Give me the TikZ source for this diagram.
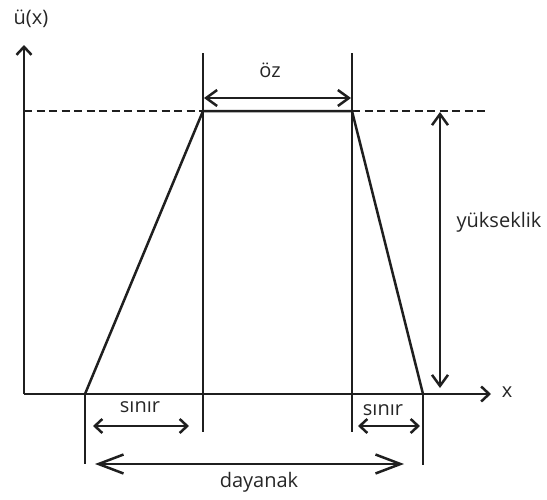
\documentclass[tikz,border=0pt]{standalone}
\usepackage{fontspec}
\setmainfont{Open Sans}
\usetikzlibrary{arrows.meta}
\begin{document}
\begin{tikzpicture}[x=1pt,y=-1pt,
  ln/.style={line width=2.5pt,draw=black!88},
  axtip/.tip={Straight Barb[length=8pt,width=15pt,line width=2.5pt]},
  mytip/.tip={Straight Barb[length=11pt,width=16pt,line width=2.5pt]},
  smtip/.tip={Straight Barb[length=7.5pt,width=14pt,line width=2.5pt]},
  bigtip/.tip={Straight Barb[length=25pt,width=19pt,line width=2.5pt]},
  lbl/.style={font=\fontsize{20}{24}\selectfont,text=black!85,inner sep=1pt}]
\useasboundingbox (0,0) rectangle (547,499);
% coordinates
\coordinate (O) at (24,394);
\coordinate (ytop) at (24,45);
\coordinate (xend) at (491,394);
\coordinate (dl) at (24,111);
\coordinate (dr) at (487,111);
\coordinate (BL) at (85,394);
\coordinate (TL) at (203,111);
\coordinate (TR) at (352,111);
\coordinate (BR) at (423,394);
\coordinate (vLt) at (203,53);
\coordinate (vLb) at (203,432);
\coordinate (vRt) at (352,53);
\coordinate (vRb) at (352,432);
\coordinate (bLb) at (85,464);
\coordinate (bRb) at (423,465);
\coordinate (ozL) at (204,98);
\coordinate (ozR) at (351,98);
\coordinate (s1L) at (93,426);
\coordinate (s1R) at (189,426);
\coordinate (s2L) at (358,426);
\coordinate (s2R) at (420,426);
\coordinate (dyL) at (95,464);
\coordinate (dyR) at (404,464);
\coordinate (ykT) at (440,112);
\coordinate (ykB) at (440,388);
% axes
\draw[ln,-{axtip}] (O) -- (ytop);
\draw[ln,-{axtip}] (O) -- (xend);
% dashed level
\draw[ln,dash pattern=on 8pt off 4.5pt] (dl) -- (TL);
\draw[ln,dash pattern=on 8pt off 4.5pt] (TR) -- (dr);
% trapezoid
\draw[ln,line join=miter] (BL) -- (TL) -- (TR) -- (BR);
% verticals
\draw[ln] (vLt) -- (vLb);
\draw[ln] (vRt) -- (vRb);
\draw[ln] (BL) -- (bLb);
\draw[ln] (BR) -- (bRb);
% dimension arrows
\draw[ln,{mytip}-{mytip}] (ozL) -- (ozR);
\draw[ln,{smtip}-{smtip}] (s1L) -- (s1R);
\draw[ln,{smtip}-{smtip}] (s2L) -- (s2R);
\draw[ln,{bigtip}-{bigtip}] (dyL) -- (dyR);
\draw[ln,{mytip}-{mytip}] (ykT) -- (ykB);
% labels
\node[lbl] (lu) at (31,19) {ü(x)};
\node[lbl] (lx) at (507,392) {x};
\node[lbl] (loz) at (270,70) {öz};
\node[lbl] (lyk) at (499,222) {yükseklik};
\node[lbl] (ls1) at (140,407) {sınır};
\node[lbl] (ls2) at (383,410) {sınır};
\node[lbl] (lda) at (259,482) {dayanak};
\end{tikzpicture}
\end{document}
